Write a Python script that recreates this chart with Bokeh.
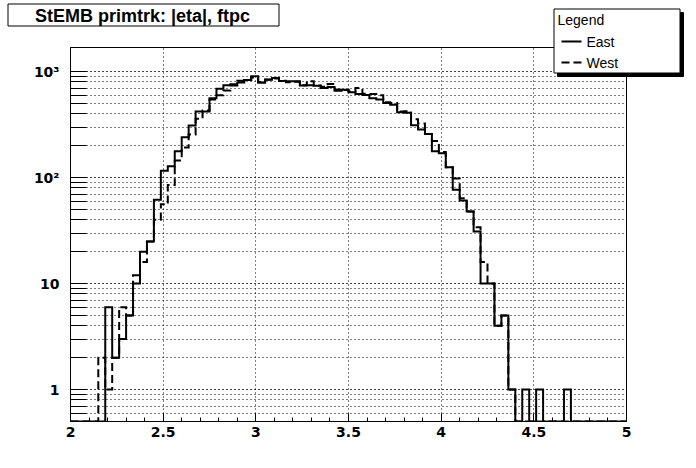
import numpy as np
from bokeh.plotting import figure
from bokeh.models import Range1d, FixedTicker
from bokeh.core.properties import value
from bokeh.embed import file_html
from bokeh.resources import INLINE

# ---- data -------------------------------------------------------------
x_start, x_stop, n_bins = 2.0, 5.0, 80

east = [0, 0, 0, 0, 0, 6, 2, 3, 5, 10,
        20, 25, 62, 116, 128, 177, 240, 310, 420, 420,
        560, 690, 745, 740, 790, 835, 905, 785, 840, 870,
        815, 810, 810, 740, 745, 735, 700, 715, 660, 675,
        638, 617, 603, 560, 545, 505, 488, 413, 410, 312,
        285, 258, 177, 170, 125, 77, 61, 48, 31, 10,
        10, 4, 5, 1, 0, 1, 0, 1, 0, 0,
        0, 1, 0, 0, 0, 0, 0, 0, 0, 0]

west = [0, 0, 0, 0, 2, 1, 2, 6, 5, 12,
        16, 25, 40, 56, 85, 145, 192, 255, 360, 430,
        545, 600, 665, 760, 822, 835, 880, 800, 845, 860,
        820, 795, 805, 745, 811, 740, 720, 766, 680, 670,
        650, 700, 620, 617, 600, 515, 506, 420, 422, 355,
        325, 258, 222, 175, 125, 98, 64, 48, 34, 16,
        10, 4, 5, 1, 0, 0, 0, 0, 0, 0,
        0, 0, 0, 0, 0, 0, 0, 0, 0, 0]

x_ticks = [2, 2.5, 3, 3.5, 4, 4.5, 5]
x_tick_labels = ["2", "2.5", "3", "3.5", "4", "4.5", "5"]
y_ticks = [1, 10, 100, 1000]
y_tick_labels = ["1", "10", "10\u00b2", "10\u00b3"]
title_text = "StEMB primtrk: |eta|, ftpc"
legend_title = "Legend"
series_names = ["East", "West"]

y_min, y_max = 0.5, 1690

# ---- main figure ------------------------------------------------------
W, H = 686, 452
p = figure(width=W, height=H, x_range=Range1d(x_start, x_stop),
           y_range=Range1d(y_min, y_max), y_axis_type="log",
           output_backend="svg", toolbar_location=None,
           min_border_left=70, min_border_right=W - 626,
           min_border_top=47, min_border_bottom=H - 421)
p.background_fill_color = "white"
p.border_fill_color = "white"
p.outline_line_color = "black"
p.outline_line_width = 1
p.outline_line_alpha = 1

minor_x = [round(2 + 0.1 * i, 2) for i in range(31)]
p.xaxis.ticker = FixedTicker(ticks=x_ticks, minor_ticks=minor_x)
minor_y = [m * 10 ** e for e in range(-1, 4) for m in range(1, 10)]
p.yaxis.ticker = FixedTicker(ticks=y_ticks, minor_ticks=minor_y)
p.xaxis.major_label_overrides = dict(zip(x_ticks, x_tick_labels))
p.yaxis.major_label_overrides = dict(zip(y_ticks, y_tick_labels))

for ax in (p.xaxis[0], p.yaxis[0]):
    ax.axis_line_color = "black"
    ax.axis_line_width = 1
    ax.major_tick_line_color = "black"
    ax.minor_tick_line_color = "black"
    ax.major_tick_out = 0
    ax.minor_tick_out = 0
    ax.major_label_text_font = "DejaVu Sans"
    ax.major_label_text_font_style = "bold"
    ax.major_label_text_font_size = "14px"
    ax.major_label_text_color = "black"

p.xaxis.major_tick_in = 8
p.xaxis.minor_tick_in = 4
p.xaxis.major_label_standoff = 5
p.yaxis.major_tick_in = 16
p.yaxis.minor_tick_in = 16
p.yaxis.major_label_standoff = 11

p.xgrid.grid_line_color = "black"
p.xgrid.grid_line_dash = "1 3"
p.ygrid.grid_line_color = "black"
p.ygrid.grid_line_dash = "1 3"
p.ygrid.minor_grid_line_color = "black"
p.ygrid.minor_grid_line_dash = "1 3"

edges = np.linspace(x_start, x_stop, n_bins + 1)

def outline(vals):
    ys = [v if v > 0 else y_min for v in vals]
    return ys + [y_min]

p.step(edges, outline(east), mode="after", line_color="black",
       line_width=2, line_join="miter")
p.step(edges, outline(west), mode="after", line_color="black",
       line_width=2, line_dash="8 4", line_join="miter")

# ---- overlay (title pave + legend pave), pixel coordinates -------------
OH = 80
q = figure(width=W, height=OH, x_range=Range1d(0, W), y_range=Range1d(OH, 0),
           output_backend="svg", toolbar_location=None,
           x_axis_location=None, y_axis_location=None,
           min_border=0, min_border_left=0, min_border_right=0,
           min_border_top=0, min_border_bottom=0)
q.outline_line_color = None
q.background_fill_alpha = 0
q.border_fill_alpha = 0
for g in q.grid:
    g.visible = False
q.styles = {"position": "absolute", "top": "0px", "left": "0px", "z-index": "5"}

# title pave
q.quad(left=[7.5], right=[278.5], top=[3.5], bottom=[25.5],
       fill_color="white", line_color="black", line_width=1)
q.text(x=[142], y=[15], text=[title_text], text_font=value("Liberation Sans"),
       text_font_style="bold", text_font_size="18px", text_color="black",
       text_align="center", text_baseline="middle")

# legend pave with shadow
q.quad(left=[557], right=[683], top=[12], bottom=[76],
       fill_color="black", line_color="black")
q.quad(left=[553.5], right=[679.5], top=[8.5], bottom=[72.5],
       fill_color="white", line_color="black", line_width=1)
q.text(x=[557], y=[19], text=[legend_title], text_font=value("Liberation Sans"),
       text_font_size="14px", text_color="black",
       text_align="left", text_baseline="middle")
q.line(x=[561, 581], y=[41, 41], line_color="black", line_width=2)
q.line(x=[561, 581], y=[62, 62], line_color="black", line_width=2,
       line_dash="8 4")
q.text(x=[586, 586], y=[41, 62], text=series_names,
       text_font=value("Liberation Sans"), text_font_size="14px",
       text_color="black", text_align="left", text_baseline="middle")

open("out.html", "w").write(file_html([p, q], INLINE))
